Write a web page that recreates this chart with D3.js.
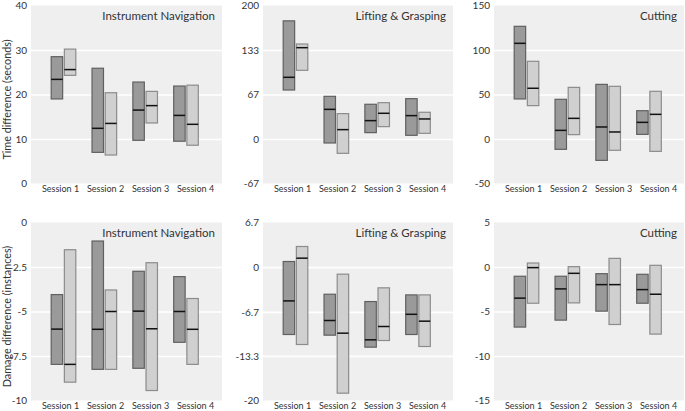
<!DOCTYPE html>
<html>
<head>
<meta charset="utf-8">
<script src="https://cdn.jsdelivr.net/npm/d3@7"></script>
<style>
  html, body { margin: 0; padding: 0; background: #fff; }
  svg { display: block; font-family: Lato, "Open Sans", sans-serif; }
</style>
</head>
<body>
<svg id="chart" width="685" height="411"></svg>
<script>
// ---------------- DATA ----------------
const sessions = ["Session 1", "Session 2", "Session 3", "Session 4"];
const panelTitles = ["Instrument Navigation", "Lifting & Grasping", "Cutting"];
const rowTitles = ["Time difference (seconds)", "Damage difference (instances)"];
const seriesNames = ["A", "B"]; // dark, light

const timeTicks = [[0, 10, 20, 30, 40], [-66.7, 0, 66.7, 133.3, 200], [-50, 0, 50, 100, 150]];
const timeTickLabels = [["0", "10", "20", "30", "40"], ["-67", "0", "67", "133", "200"], ["-50", "0", "50", "100", "150"]];
const damageTicks = [[-10, -7.5, -5, -2.5, 0], [-20, -13.3, -6.7, 0, 6.7], [-15, -10, -5, 0, 5]];
const damageTickLabels = [["-10", "-7.5", "-5", "-2.5", "0"], ["-20", "-13.3", "-6.7", "0", "6.7"], ["-15", "-10", "-5", "0", "5"]];

// [low, median, high] per session
const navTimeDark   = [[19.0, 23.4, 28.5], [7.0, 12.4, 25.9], [9.7, 16.5, 22.8], [9.5, 15.3, 21.9]];
const navTimeLight  = [[24.3, 25.6, 30.2], [6.4, 13.5, 20.4], [13.6, 17.5, 20.7], [8.6, 13.3, 22.1]];
const liftTimeDark  = [[73.4, 92.4, 177], [-6, 44.4, 63.9], [9.5, 27.5, 52], [5.5, 35, 60.4]];
const liftTimeLight = [[102.9, 136.8, 142.3], [-21.5, 14, 38], [18.5, 38.5, 54.4], [8.5, 30, 40]];
const cutTimeDark   = [[45, 107.5, 126.6], [-11.6, 9.7, 44.6], [-24, 13.5, 61.4], [5.2, 18.7, 31.8]];
const cutTimeLight  = [[37.5, 57, 87.3], [4.9, 23.2, 58], [-12.7, 7.9, 59.2], [-13.9, 27.7, 53.6]];
const navDmgDark    = [[-7.97, -5.99, -4.05], [-8.25, -6.0, -1.04], [-8.19, -4.98, -2.74], [-6.73, -5.0, -3.04]];
const navDmgLight   = [[-8.97, -7.97, -1.53], [-8.25, -5.0, -3.79], [-9.44, -5.97, -2.26], [-7.97, -6.0, -4.27]];
const liftDmgDark   = [[-10.1, -5.06, 0.85], [-10.2, -8.0, -4.06], [-12, -10.9, -5.16], [-10.1, -7.07, -4.16]];
const liftDmgLight  = [[-11.6, 1.35, 3.1], [-18.9, -9.9, -1.05], [-11, -8.9, -3.1], [-11.9, -8.1, -4.16]];
const cutDmgDark    = [[-6.75, -3.5, -1.04], [-5.97, -2.46, -1.04], [-4.96, -1.98, -0.75], [-4.07, -2.54, -0.82]];
const cutDmgLight   = [[-4.07, -0.07, 0.45], [-4.03, -0.71, 0.04], [-6.46, -1.98, 0.97], [-7.54, -3.06, 0.19]];

// ---------------- LAYOUT ----------------
const colX = [[31, 222], [263, 453], [494, 684]];
const rowY = [[5.5, 183.5], [222.5, 400.5]];
const style = {
  bg: "#efefef",
  darkFill: "#9a9a9a", darkStroke: "#606060",
  lightFill: "#d0d0d0", lightStroke: "#8c8c8c",
  median: "#111"
};

const panels = [
  { row: 0, col: 0, ticks: timeTicks[0], labels: timeTickLabels[0], dark: navTimeDark, light: navTimeLight },
  { row: 0, col: 1, ticks: timeTicks[1], labels: timeTickLabels[1], dark: liftTimeDark, light: liftTimeLight },
  { row: 0, col: 2, ticks: timeTicks[2], labels: timeTickLabels[2], dark: cutTimeDark, light: cutTimeLight },
  { row: 1, col: 0, ticks: damageTicks[0], labels: damageTickLabels[0], dark: navDmgDark, light: navDmgLight },
  { row: 1, col: 1, ticks: damageTicks[1], labels: damageTickLabels[1], dark: liftDmgDark, light: liftDmgLight },
  { row: 1, col: 2, ticks: damageTicks[2], labels: damageTickLabels[2], dark: cutDmgDark, light: cutDmgLight }
];

const svg = d3.select("#chart");

panels.forEach(p => {
  const [x0, x1] = colX[p.col];
  const [yTop, yBot] = rowY[p.row];
  const g = svg.append("g");

  const y = d3.scaleLinear().domain([p.ticks[0], p.ticks[p.ticks.length - 1]]).range([yBot, yTop]);
  const xLabel = d3.scalePoint().domain(sessions).range([x0 + 29, x0 + 164]);
  const xBar = d3.scalePoint().domain(sessions).range([x0 + 32.5, x0 + 155]);
  const xSeries = d3.scaleBand().domain(seriesNames).range([-12.3, 12.3]).paddingInner(0.13);

  // background
  g.append("rect").attr("x", x0).attr("y", yTop).attr("width", x1 - x0).attr("height", yBot - yTop)
    .attr("fill", style.bg);

  // gridlines (interior ticks)
  const gridAxis = d3.axisLeft(y).tickValues(p.ticks.slice(1, -1)).tickSize(-(x1 - x0)).tickFormat("");
  const grid = g.append("g").attr("transform", `translate(${x0},0)`).call(gridAxis);
  grid.select(".domain").remove();
  grid.selectAll("line").attr("stroke", "#fff").attr("stroke-width", 1.6);

  // tick labels
  const labelAxis = d3.axisLeft(y).tickValues(p.ticks).tickSize(0).tickPadding(4)
    .tickFormat((d, i) => p.labels[i]);
  const la = g.append("g").attr("transform", `translate(${x0},0)`).call(labelAxis);
  la.select(".domain").remove();
  la.selectAll("text").attr("font-family", "Lato, sans-serif").attr("font-size", 10).attr("fill", "#333");

  // session labels
  const xAxis = d3.axisBottom(xLabel).tickSize(0).tickPadding(0);
  const xa = g.append("g").attr("transform", `translate(0,${yBot + 2.5})`).call(xAxis);
  xa.select(".domain").remove();
  xa.selectAll("text").attr("font-family", "Lato, sans-serif").attr("font-size", 9).attr("fill", "#333");

  // bars
  const drawSeries = (data, key, fill, stroke) => {
    const sg = g.append("g");
    sessions.forEach((s, i) => {
      const [lo, med, hi] = data[i];
      const bx = xBar(s) + xSeries(key);
      const bw = xSeries.bandwidth();
      sg.append("rect").attr("x", bx).attr("y", y(hi)).attr("width", bw).attr("height", y(lo) - y(hi))
        .attr("fill", fill).attr("stroke", stroke).attr("stroke-width", 1.2);
      sg.append("line").attr("x1", bx).attr("x2", bx + bw).attr("y1", y(med)).attr("y2", y(med))
        .attr("stroke", style.median).attr("stroke-width", 1.5);
    });
  };
  drawSeries(p.dark, "A", style.darkFill, style.darkStroke);
  drawSeries(p.light, "B", style.lightFill, style.lightStroke);

  // panel title
  g.append("text").attr("x", x1 - 7).attr("y", yTop + 14).attr("text-anchor", "end")
    .attr("font-size", 11.5).attr("fill", "#333").text(panelTitles[p.col]);
});

// row titles
rowTitles.forEach((t, r) => {
  const cy = (rowY[r][0] + rowY[r][1]) / 2 + 5;
  svg.append("text").attr("transform", `translate(11,${cy}) rotate(-90)`).attr("text-anchor", "middle")
    .attr("font-size", 10.8).attr("fill", "#333").text(t);
});
</script>
</body>
</html>
